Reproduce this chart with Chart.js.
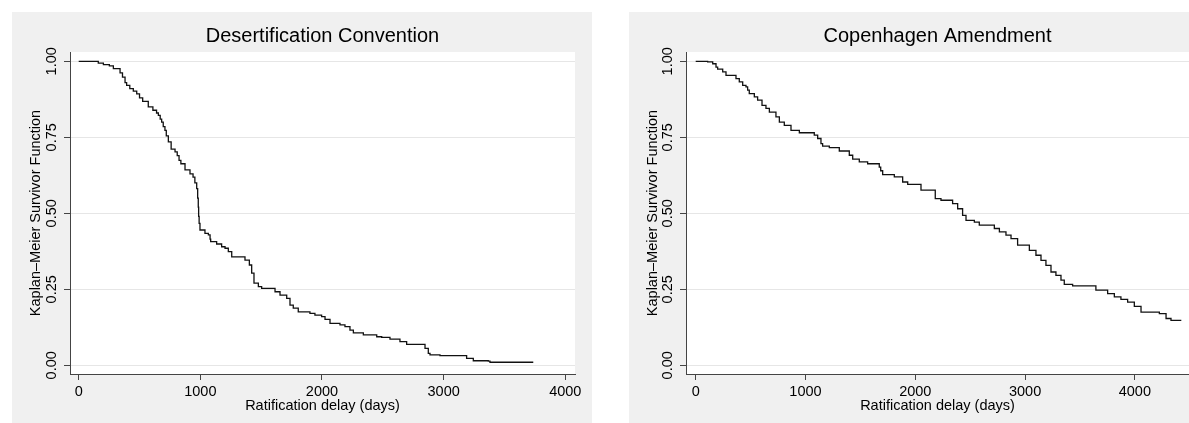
<!DOCTYPE html>
<html>
<head>
<meta charset="utf-8">
<script src="https://cdn.jsdelivr.net/npm/chart.js@4.4.1/dist/chart.umd.min.js"></script>
<style>
  html, body { margin: 0; padding: 0; background: #ffffff; }
  body { width: 1189px; height: 423px; position: relative; overflow: hidden; }
  .panel { position: absolute; background: #f0f0f0; }
  canvas { display: block; }
</style>
</head>
<body>
<div class="panel" id="p1" style="left:12px; top:12px; width:580px; height:411px;"><canvas id="c1" width="580" height="411"></canvas></div>
<div class="panel" id="p2" style="left:629px; top:12px; width:560px; height:411px;"><canvas id="c2" width="560" height="411"></canvas></div>
<script>
// ---- Data ----
const titles = ['Desertification Convention', 'Copenhagen Amendment'];
const xAxisTitle = 'Ratification delay (days)';
const yAxisTitle = 'Kaplan\u2013Meier Survivor Function';
const xTicks = [0, 1000, 2000, 3000, 4000];
const xTickLabels = ['0', '1000', '2000', '3000', '4000'];
const yTicks = [0, 0.25, 0.5, 0.75, 1];
const yTickLabels = ['0.00', '0.25', '0.50', '0.75', '1.00'];

// Desertification Convention: step times (days) and survivor values
const desertDays = [0, 161, 203, 252, 285, 340, 360, 381, 394, 420, 449, 477, 500, 526, 572, 610, 640, 655, 670, 682,
  695, 709, 720, 737, 760, 792, 810, 825, 840, 874, 915, 940, 955, 970, 978, 983, 986, 990, 997, 1038,
  1066, 1080, 1085, 1134, 1175, 1203, 1230, 1258, 1367, 1403, 1422, 1441, 1477, 1504, 1614, 1655, 1710, 1737, 1764, 1805,
  1901, 1942, 1997, 2025, 2066, 2148, 2189, 2230, 2258, 2340, 2450, 2491, 2559, 2641, 2696, 2847, 2874, 2888, 2970, 3189,
  3244, 3367, 3381, 3737];
const desertSurv = [1.000, 0.994, 0.989, 0.985, 0.976, 0.962, 0.948, 0.930, 0.921, 0.910, 0.902, 0.893, 0.880, 0.868, 0.850, 0.839, 0.830, 0.822, 0.810, 0.800,
  0.785, 0.773, 0.755, 0.735, 0.711, 0.702, 0.690, 0.674, 0.663, 0.643, 0.630, 0.619, 0.600, 0.581, 0.550, 0.520, 0.490, 0.467, 0.445, 0.434,
  0.429, 0.415, 0.407, 0.399, 0.390, 0.385, 0.374, 0.357, 0.346, 0.330, 0.303, 0.270, 0.259, 0.253, 0.242, 0.231, 0.220, 0.198, 0.188, 0.176,
  0.171, 0.165, 0.160, 0.151, 0.138, 0.133, 0.127, 0.116, 0.107, 0.100, 0.094, 0.092, 0.086, 0.078, 0.069, 0.056, 0.039, 0.034, 0.032, 0.023,
  0.015, 0.014, 0.010, 0.010];

// Copenhagen Amendment: step times (days) and survivor values
const copenDays = [0, 109, 155, 185, 200, 246, 276, 367, 397, 428, 458, 473, 488, 534, 564, 604, 640, 671, 731, 762,
  807, 868, 944, 1080, 1111, 1141, 1156, 1217, 1308, 1399, 1430, 1490, 1566, 1672, 1685, 1703, 1809, 1885, 1931, 2052,
  2182, 2234, 2340, 2386, 2431, 2462, 2538, 2583, 2720, 2766, 2826, 2872, 2932, 3039, 3099, 3145, 3190, 3236, 3281, 3327,
  3357, 3433, 3645, 3752, 3813, 3873, 3934, 3995, 4056, 4223, 4284, 4329, 4423];
const copenSurv = [1.000, 0.998, 0.992, 0.981, 0.974, 0.965, 0.954, 0.943, 0.932, 0.921, 0.916, 0.905, 0.894, 0.883, 0.872, 0.855, 0.845, 0.833, 0.817, 0.800,
  0.789, 0.773, 0.765, 0.757, 0.746, 0.729, 0.721, 0.716, 0.705, 0.691, 0.678, 0.669, 0.663, 0.652, 0.640, 0.627, 0.620, 0.603, 0.595, 0.576,
  0.548, 0.543, 0.532, 0.515, 0.493, 0.477, 0.471, 0.461, 0.450, 0.439, 0.428, 0.417, 0.395, 0.378, 0.362, 0.345, 0.329, 0.307, 0.296, 0.280,
  0.266, 0.261, 0.247, 0.236, 0.225, 0.217, 0.208, 0.194, 0.175, 0.170, 0.154, 0.148, 0.148];

// ---- Chart construction ----
const FONT = "'Liberation Sans', Arial, Helvetica, sans-serif";
const plotBg = {
  id: 'plotBg',
  beforeDraw(chart) {
    const {ctx, chartArea: a} = chart;
    ctx.save();
    ctx.fillStyle = '#f0f0f0';
    ctx.fillRect(0, 0, chart.width, chart.height);
    ctx.fillStyle = '#ffffff';
    ctx.fillRect(a.left, a.top, a.right - a.left, a.bottom - a.top);
    ctx.restore();
  }
};

function makeChart(id, title, days, surv, xmin, xmax, yAxisWidth, padRight) {
  const pts = days.map((d, i) => ({x: d, y: surv[i]}));
  return new Chart(document.getElementById(id), {
    type: 'line',
    data: { datasets: [{ data: pts, borderColor: '#111111', borderWidth: 1.3, pointRadius: 0, stepped: 'before', fill: false, tension: 0 }] },
    options: {
      responsive: false, animation: false, devicePixelRatio: 1,
      layout: { padding: { left: 0, right: padRight, top: 0, bottom: 0 } },
      plugins: {
        legend: { display: false }, tooltip: { enabled: false },
        title: { display: true, text: title, fullSize: false, color: '#000', font: { family: FONT, size: 20, weight: 'normal', lineHeight: 1.2 }, padding: { top: 12.5, bottom: 3.5 } }
      },
      scales: {
        x: {
          type: 'linear', min: xmin, max: xmax,
          afterBuildTicks: s => { s.ticks = xTicks.map(v => ({value: v})); },
          afterFit: s => { s.height = 49; },
          ticks: { color: '#000', font: { family: FONT, size: 14.5 }, padding: 3, maxRotation: 0, callback: (v, i) => xTickLabels[i] },
          grid: { drawOnChartArea: false, drawTicks: true, tickLength: 6, tickColor: '#444', tickWidth: 1 },
          border: { display: true, color: '#444', width: 1 },
          title: { display: true, text: xAxisTitle, color: '#000', font: { family: FONT, size: 14.5 }, padding: { top: 0, bottom: 8.8 } }
        },
        y: {
          type: 'linear', min: -0.0286, max: 1.0306,
          afterBuildTicks: s => { s.ticks = yTicks.map(v => ({value: v})); },
          afterFit: s => { s.width = yAxisWidth; },
          ticks: { color: '#000', font: { family: FONT, size: 14.5 }, padding: -2, minRotation: 90, maxRotation: 90, crossAlign: 'center', callback: (v, i) => yTickLabels[i] },
          grid: { drawOnChartArea: true, color: '#e6e6e6', lineWidth: 1, drawTicks: true, tickLength: 6, tickColor: '#444', tickWidth: 1 },
          border: { display: true, color: '#444', width: 1 },
          title: { display: true, text: yAxisTitle, color: '#000', font: { family: FONT, size: 14.5 }, padding: { top: 15.6, bottom: 0 } }
        }
      }
    },
    plugins: [plotBg]
  });
}

makeChart('c1', titles[0], desertDays, desertSurv, -71.5, 4080, 58, 17);
makeChart('c2', titles[1], copenDays, copenSurv, -88.3, 4493, 57, 0);
</script>
</body>
</html>
